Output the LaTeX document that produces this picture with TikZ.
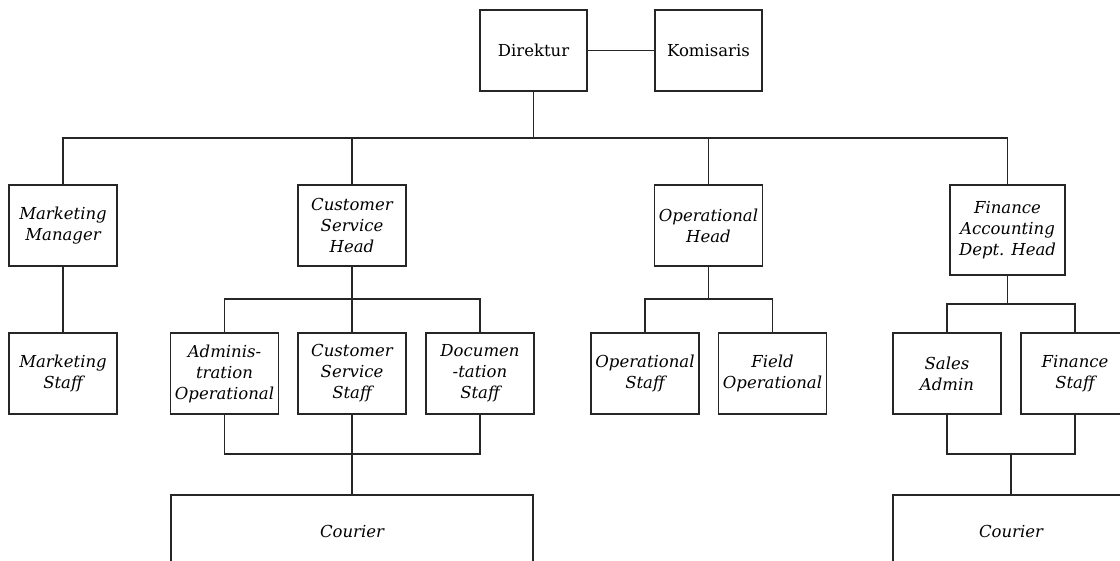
\documentclass[tikz,border=0pt]{standalone}
\usepackage{fontspec}
\setmainfont{DejaVu Serif}
\begin{document}
\begin{tikzpicture}[x=1pt,y=-1pt,
  every node/.style={font=\fontsize{16.5}{21}\selectfont},
  box/.style={draw=black!85, line width=1.3pt, rectangle, align=center,
    minimum width=108pt, minimum height=81pt, inner sep=1pt, font=\fontsize{16.5}{21}\selectfont\itshape},
  topbox/.style={box, font=\fontsize{16.5}{21}\selectfont\upshape},
  wire/.style={draw=black!85, line width=1.3pt}]
\useasboundingbox (0,0) rectangle (1120,561);
\clip (0,0) rectangle (1120,561);

% top level
\node[topbox, minimum width=107pt] (dir) at (533.5,50.5) {Direktur};
\node[topbox, minimum width=107pt] (kom) at (708.5,50.5) {Komisaris};

% department heads
\node[box] (mm) at (63,225.5) {Marketing\\Manager};
\node[box] (csh) at (352,225.5) {Customer\\Service\\Head};
\node[box] (oh) at (708.5,225.5) {Operational\\Head};
\node[box, minimum width=115pt, minimum height=90pt] (fadh) at (1007.5,230) {Finance\\Accounting\\Dept. Head};

% staff
\node[box] (ms) at (63,373.5) {Marketing\\Staff};
\node[box] (adm) at (224.5,373.5) {Adminis-\\tration\\Operational};
\node[box] (css) at (352,373.5) {Customer\\Service\\Staff};
\node[box] (doc) at (480,373.5) {Documen\\-tation\\Staff};
\node[box] (ops) at (645,373.5) {Operational\\Staff};
\node[box] (fop) at (772.5,373.5) {Field\\Operational};
\node[box] (sa) at (947,373.5) {Sales\\Admin};
\node[box] (fs) at (1075,373.5) {Finance\\Staff};

% couriers
\node[box, minimum width=362pt, minimum height=80pt] (cr1) at (352,535) {\raisebox{7pt}{Courier}};
\node[box, minimum width=236pt, minimum height=80pt] (cr2) at (1011,535) {\raisebox{7pt}{Courier}};

% junction points
\coordinate (bus) at (533.5,138);
\coordinate (cb) at (352,299);
\coordinate (cl) at (352,454);
\coordinate (ob) at (708.5,299);
\coordinate (fb) at (1007.5,304);
\coordinate (fl) at (1011,454);

% connectors
\draw[wire] (dir) -- (kom);
\draw[wire] (dir) -- (bus);
\draw[wire] (mm.north) |- (bus) -| (fadh.north);
\draw[wire] (csh.north) -- (csh.north |- bus);
\draw[wire] (oh.north) -- (oh.north |- bus);

\draw[wire] (mm) -- (ms);

\draw[wire] (csh) -- (css);
\draw[wire] (adm.north) |- (cb) -| (doc.north);
\draw[wire] (adm.south) |- (cl) -| (doc.south);
\draw[wire] (css) -- (cr1);

\draw[wire] (oh.south) -- (ob);
\draw[wire] (ops.north) |- (ob) -| (fop.north);

\draw[wire] (fadh.south) -- (fb);
\draw[wire] (sa.north) |- (fb) -| (fs.north);
\draw[wire] (sa.south) |- (fl) -| (fs.south);
\draw[wire] (fl) -- (cr2.north);
\end{tikzpicture}
\end{document}
